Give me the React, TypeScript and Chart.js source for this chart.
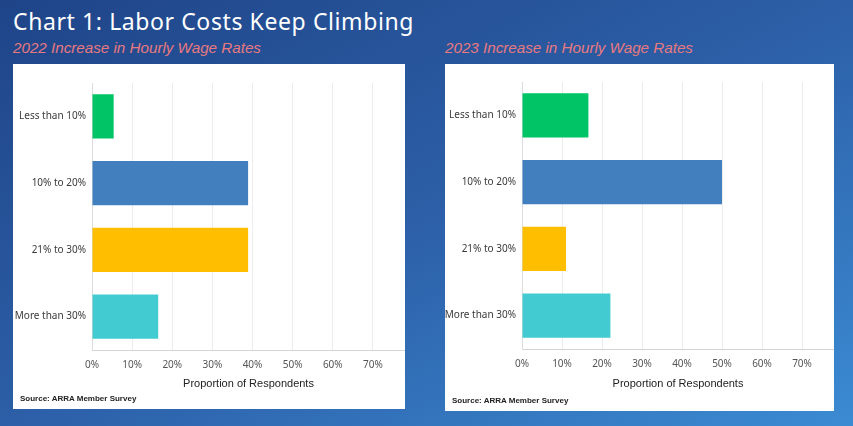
import React, { useEffect, useRef } from "react";
import { Chart, registerables } from "chart.js";

Chart.register(...registerables);

const categories = ["Less than 10%", "10% to 20%", "21% to 30%", "More than 30%"];
const values2022 = [5.4, 38.9, 38.9, 16.5];
const values2023 = [16.6, 50, 11, 22.1];
const barColors = ["#00C465", "#427FBF", "#FFBE00", "#42CBD0"];
const xTickStep = 10;
const xMax = 78;

const mainTitle = "Chart 1: Labor Costs Keep Climbing";
const subtitle2022 = "2022 Increase in Hourly Wage Rates";
const subtitle2023 = "2023 Increase in Hourly Wage Rates";
const axisTitle = "Proportion of Respondents";
const sourceText = "Source: ARRA Member Survey";

type PanelProps = {
  left: number;
  top: number;
  width: number;
  height: number;
  subtitle: string;
  values: number[];
  yWidth: number;
  padTop: number;
  padBottom: number;
  xHeight: number;
};

function Panel(p: PanelProps) {
  const ref = useRef<HTMLCanvasElement | null>(null);
  useEffect(() => {
    if (!ref.current) return;
    const chart = new Chart(ref.current, {
      type: "bar",
      data: {
        labels: categories,
        datasets: [
          {
            data: p.values,
            backgroundColor: barColors,
            borderWidth: 0,
            barPercentage: 0.66,
            categoryPercentage: 1,
          },
        ],
      },
      options: {
        indexAxis: "y",
        animation: false,
        responsive: false,
        layout: { padding: { top: p.padTop, right: 0, bottom: p.padBottom, left: 0 } },
        plugins: { legend: { display: false }, tooltip: { enabled: false } },
        scales: {
          x: {
            min: 0,
            max: xMax,
            grid: { color: "#ececec", drawTicks: false, lineWidth: 1 },
            border: { color: "#d4d4d4", width: 1 },
            ticks: {
              stepSize: xTickStep,
              includeBounds: false,
              padding: 9,
              color: "#555",
              font: { family: "'Noto Sans', sans-serif", size: 10 },
              callback: (v: any) => v + "%",
            },
            title: {
              display: true,
              text: axisTitle,
              color: "#222",
              font: { family: "'Liberation Sans', Arial, sans-serif", size: 11 },
              padding: { top: 4, bottom: 4 },
            },
            afterFit: (s: any) => {
              s.height = p.xHeight;
              s.paddingRight = 0;
            },
          },
          y: {
            grid: { display: false, drawTicks: false },
            border: { color: "#dcdcdc", width: 1 },
            ticks: {
              padding: 6,
              color: "#3a3a3a",
              font: { family: "'Noto Sans', sans-serif", size: 10 },
            },
            afterFit: (s: any) => {
              s.width = p.yWidth;
            },
          },
        },
      },
    });
    return () => chart.destroy();
  }, []);

  return (
    <>
      <div
        style={{
          position: "absolute",
          left: p.left,
          top: 38,
          fontFamily: "'Liberation Sans', Arial, sans-serif",
          fontStyle: "italic",
          fontSize: 15.2,
          color: "#E8797F",
          whiteSpace: "nowrap",
          lineHeight: "20px",
        }}
      >
        {p.subtitle}
      </div>
      <div
        style={{
          position: "absolute",
          left: p.left,
          top: p.top,
          width: p.width,
          height: p.height,
          background: "#fff",
          overflow: "hidden",
        }}
      >
        <canvas ref={ref} width={p.width} height={p.height} style={{ display: "block" }} />
        <div
          style={{
            position: "absolute",
            left: 7,
            top: p.height - 15,
            fontFamily: "'Liberation Sans', Arial, sans-serif",
            fontWeight: "bold",
            fontSize: 8,
            color: "#222",
            whiteSpace: "nowrap",
            lineHeight: "10px",
          }}
        >
          {sourceText}
        </div>
      </div>
    </>
  );
}

export default function App() {
  return (
    <div
      style={{
        position: "fixed",
        left: 0,
        top: 0,
        width: 853,
        height: 426,
        overflow: "hidden",
        background: "linear-gradient(to bottom right, #1f4488 0%, #2c5fa7 50%, #3b8bd3 100%)",
      }}
    >
      <div
        style={{
          position: "absolute",
          left: 13,
          top: 6,
          fontFamily: "'Noto Sans', sans-serif",
          fontSize: 23,
          letterSpacing: 0.6,
          color: "#fff",
          whiteSpace: "nowrap",
          lineHeight: "30px",
        }}
      >
        {mainTitle}
      </div>
      <Panel
        left={13}
        top={64}
        width={392}
        height={345}
        subtitle={subtitle2022}
        values={values2022}
        yWidth={79}
        padTop={19}
        padBottom={14}
        xHeight={45}
      />
      <Panel
        left={445}
        top={64}
        width={389}
        height={347}
        subtitle={subtitle2023}
        values={values2023}
        yWidth={77}
        padTop={18}
        padBottom={16}
        xHeight={46}
      />
    </div>
  );
}
